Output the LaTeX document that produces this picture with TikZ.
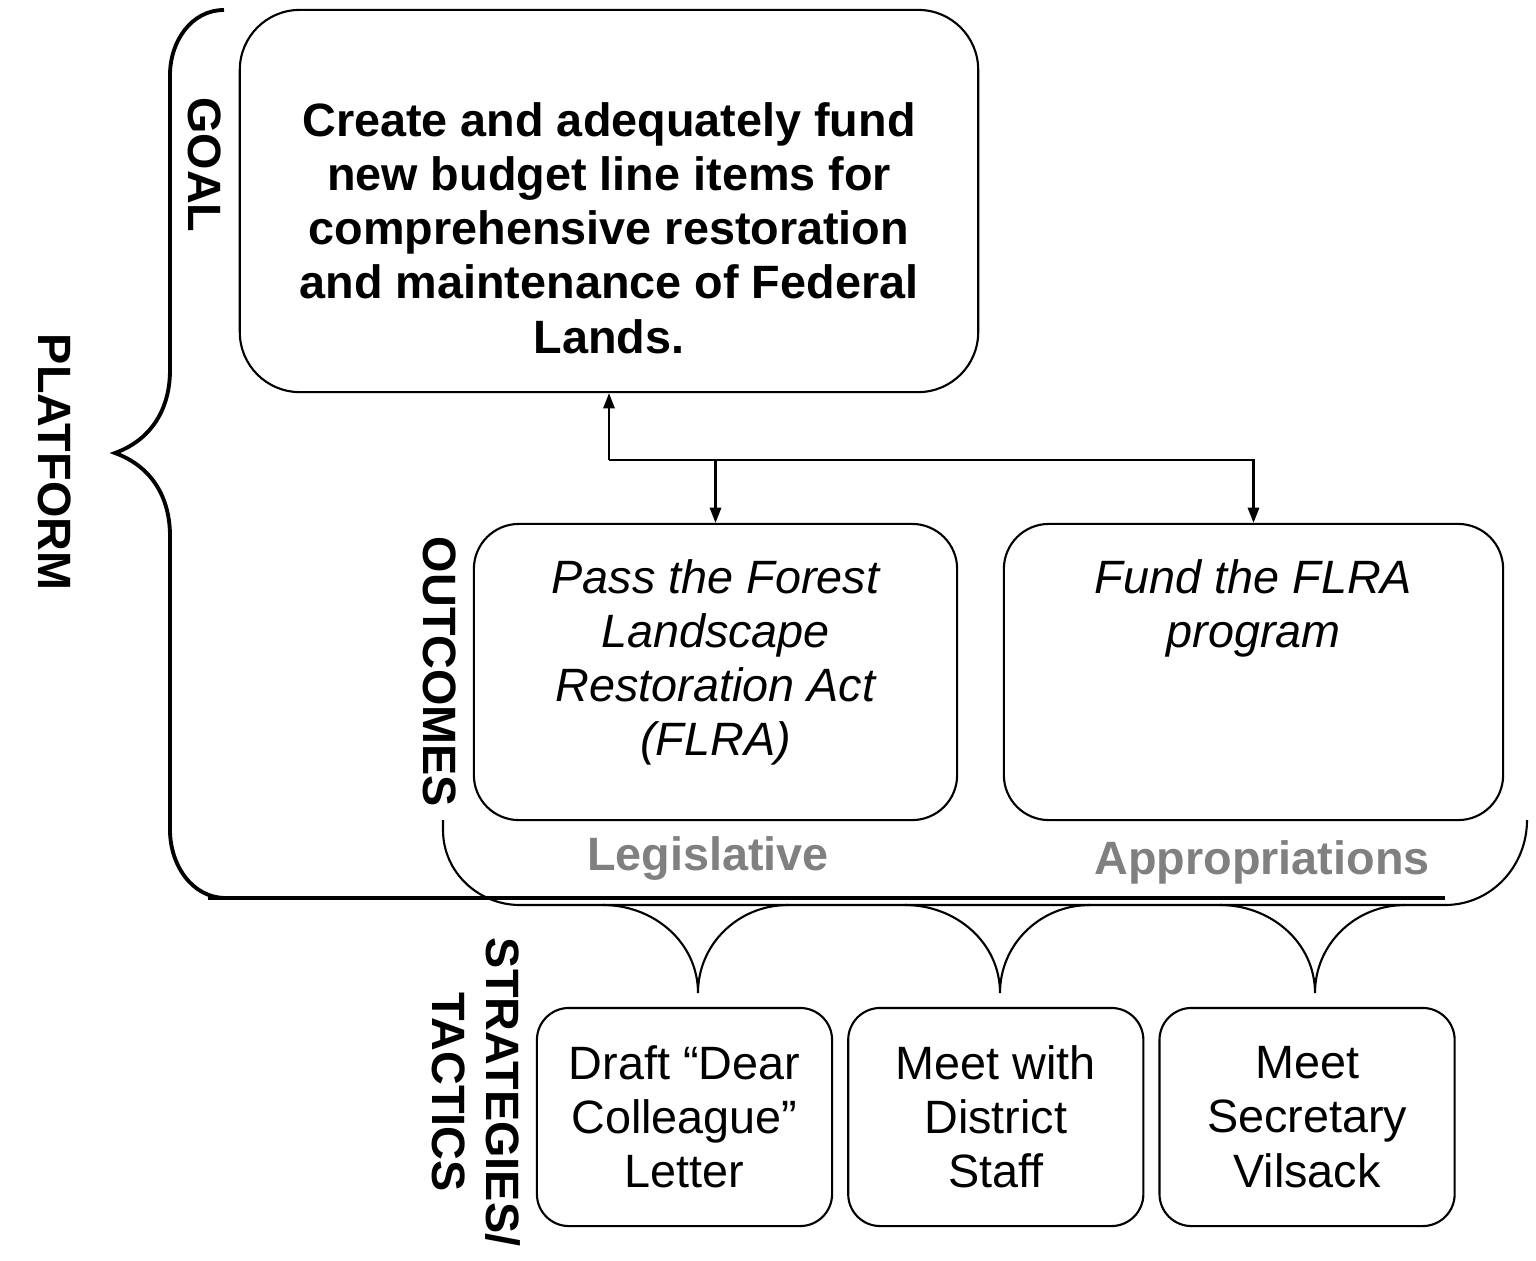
\documentclass[tikz,border=0pt]{standalone}
\usepackage{fontspec}
\setmainfont{Liberation Sans}
\usetikzlibrary{arrows.meta,positioning}
\newcommand{\fs}{\fontsize{13.3pt}{15.4pt}\selectfont}

\begin{document}
\begin{tikzpicture}[
  x=0.01cm, y=0.01cm,
  font=\fs,
  box/.style={draw, rectangle, line width=0.6pt, inner sep=0pt, align=center},
  txt/.style={align=center, inner sep=0pt},
  side/.style={align=center, inner sep=0pt, font=\fs\bfseries, rotate=-90},
  area/.style={inner sep=0pt, font=\fs\bfseries, text=gray},
  tac/.style={box, rounded corners=0.32cm, minimum width=2.95cm, minimum height=2.18cm},
  thin/.style={line width=0.6pt},
  thick brace/.style={line width=1.1pt},
  >={Triangle[length=4.3pt,width=3.2pt]}, node distance=4mm
]
\useasboundingbox (0,0) rectangle (1536,-1260);

\node[box, rounded corners=0.6cm, minimum width=7.38cm, minimum height=3.82cm] (goal) at (609,-201) {};
\node[txt, font=\fs\bfseries] (goaltxt) at (609,-228) {Create and adequately fund\\new budget line items for\\comprehensive restoration\\and maintenance of Federal\\Lands.};

\node[box, rounded corners=0.45cm, minimum width=4.83cm, minimum height=2.96cm] (out1) at (715.5,-672) {};
\node[box, rounded corners=0.45cm, minimum width=4.99cm, minimum height=2.96cm] (out2) at (1253.5,-672) {};
\node[txt, font=\fs\itshape, below=0.36cm of out1.north] (out1txt) {Pass the Forest\\Landscape\\Restoration Act\\(FLRA)};
\node[txt, font=\fs\itshape, below=0.36cm of out2.north] (out2txt) {Fund the FLRA\\program};

\node[tac] (t1) at (684.5,-1117) {Draft “Dear\\Colleague”\\Letter};
\node[tac, right=0.14cm of t1] (t2) {Meet with\\District\\Staff};
\node[tac, right=0.14cm of t2] (t3) {Meet\\Secretary\\Vilsack};

\node[side] (goallbl) at (205,-165) {GOAL};
\node[side] (outlbl) at (440,-672) {OUTCOMES};
\node[side] (platlbl) at (55,-462) {PLATFORM};
\node[side] (taclbl) at (476,-1092) {STRATEGIES/\\TACTICS};

\node[area] (leg) at (708,-858) {Legislative};
\node[area] (app) at (1262,-862) {Appropriations};

\coordinate (split) at (609,-460);
\draw[thin,->] (split) -- (goal.south);
\draw[thin,->] (split) -| (out1.north);
\draw[thin,->] (split) -| (out2.north);

\draw[thick brace] (224,-10) to[out=180,in=90] (170,-75) -- (170,-370)
  to[out=-90,in=20] (115,-453) to[out=-20,in=90] (170,-536) -- (170,-830)
  to[out=-90,in=180] (226,-898);
\draw[thick brace] (208,-898) -- (1445,-898);

\draw[thin] (443,-820) -- (443,-830) to[out=-90,in=180] (520,-905) -- (1445,-905)
  to[out=0,in=-90] (1527,-820);
\foreach \c in {698,1000,1315}
  \draw[thin] (\c-95,-905) to[out=0,in=90] (\c,-993) to[out=90,in=180] (\c+90,-905);
\end{tikzpicture}
\end{document}
